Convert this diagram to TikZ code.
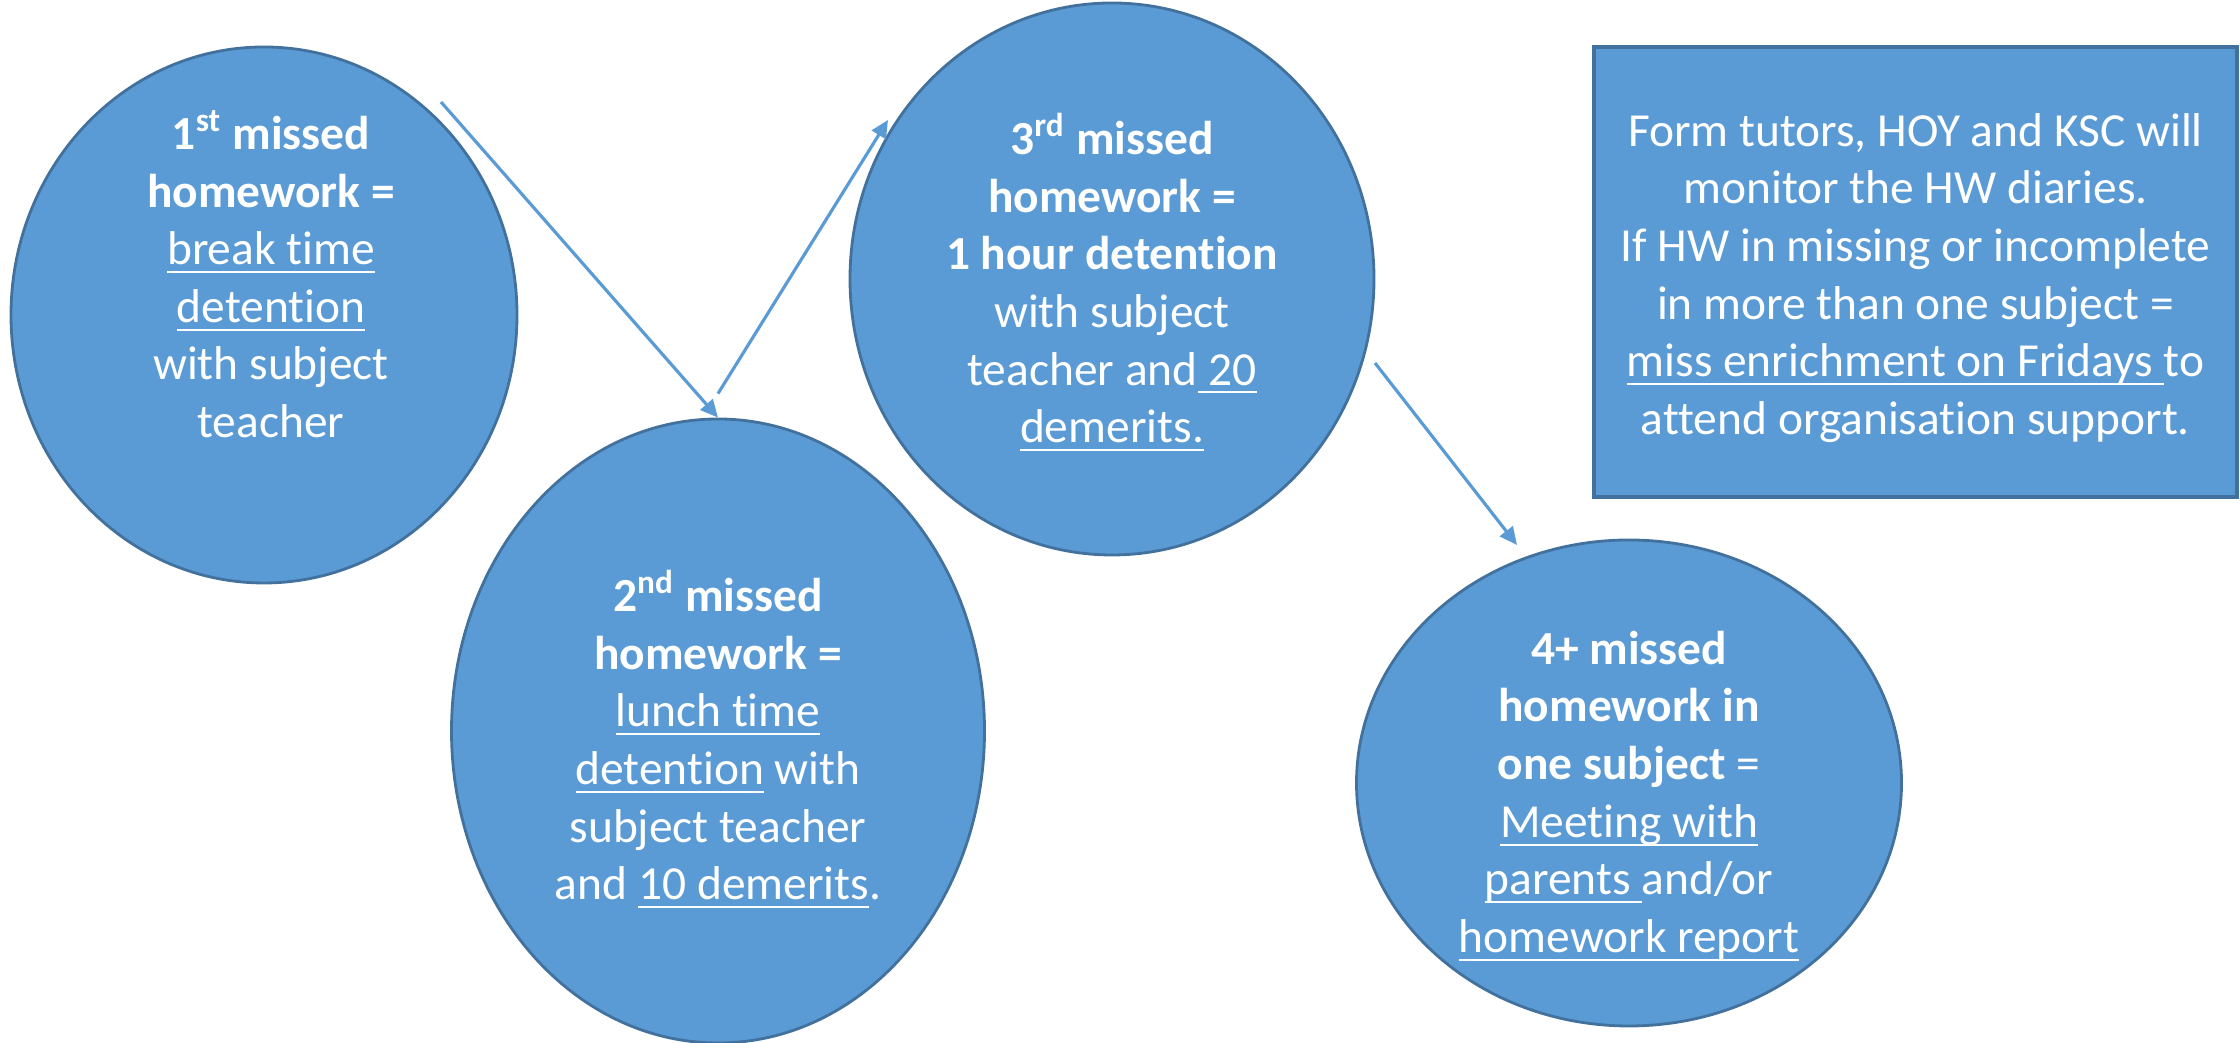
\documentclass[tikz,border=0pt]{standalone}
\usepackage{fontspec}
\setmainfont{Carlito}[Ligatures={NoCommon,NoRare,NoContextual}]
\usepackage{tikz}
\usetikzlibrary{shapes.geometric, arrows.meta, positioning, calc}
\definecolor{blobfill}{HTML}{5B9BD5}
\definecolor{blobline}{HTML}{41719C}
\newcommand{\ulin}[1]{\sbox0{#1}\rlap{\rule[-2.4pt]{\wd0}{0.6pt}}\usebox0}

\begin{document}
\begin{tikzpicture}[
  font=\fontsize{13.5}{16.4}\selectfont,
  blob/.style={ellipse, draw=blobline, fill=blobfill, line width=0.8pt, inner sep=0pt},
  notebox/.style={rectangle, draw=blobline, fill=blobfill, line width=0.9pt,
                  minimum width=6.43cm, minimum height=4.5cm, inner sep=0pt},
  txt/.style={text=white, align=center, inner sep=0pt},
  arr/.style={-{Triangle[length=5pt, width=4.6pt]}, blobfill, line width=0.9pt}
]
  \useasboundingbox (0,0) rectangle (22.4,10.43);

  % the four steps
  \node[blob, minimum width=5.06cm, minimum height=5.36cm] (e1) at (2.64,7.28) {};
  \node[blob, minimum width=5.33cm, minimum height=6.24cm] (e2) at ([shift={(4.54,-4.16)}]e1.center) {};
  \node[blob, minimum width=5.24cm, minimum height=5.52cm] (e3) at ([shift={(8.48,0.36)}]e1.center) {};
  \node[blob, minimum width=5.45cm, minimum height=4.86cm] (e4) at ([shift={(5.17,-5.04)}]e3.center) {};
  \node[notebox] (note) at (19.155,7.71) {};

  \node[txt] (t1) at ([shift={(0.07,0.41)}]e1.center) {\textbf{1\textsuperscript{st} missed}\\ \textbf{homework =}\\
    \ulin{break time}\\ \ulin{detention}\\ with subject\\ teacher};
  \node[txt] (t2) at ([yshift=-0.08cm]e2.center) {\textbf{2\textsuperscript{nd} missed}\\ \textbf{homework =}\\
    \ulin{lunch time}\\ \ulin{detention} with\\ subject teacher\\ and \ulin{10 demerits}.};
  \node[txt] (t3) at ([yshift=-0.03cm]e3.center) {\textbf{3\textsuperscript{rd} missed}\\ \textbf{homework =}\\
    \textbf{1 hour detention}\\ with subject\\ teacher and\ulin{\ 20}\\ \ulin{demerits.}};
  \node[txt] (t4) at ([yshift=-0.13cm]e4.center) {\textbf{4+ missed}\\ \textbf{homework in}\\
    \textbf{one subject} =\\ \ulin{Meeting with}\\ \ulin{parents\ }and/or\\ \ulin{homework report}};
  \node[txt] (tn) at ([yshift=-0.06cm]note.center) {Form tutors, HOY and KSC will\\ monitor the HW diaries.\\
    If HW in missing or incomplete\\ in more than one subject =\\
    \ulin{miss enrichment on Fridays\ }to\\ attend organisation support.};

  % arrow ends
  \coordinate (a1s) at ([shift={(1.77,2.13)}]e1.center);
  \coordinate (a2s) at ([yshift=2.4mm]e2.north);
  \coordinate (a2e) at ([shift={(-2.24,1.59)}]e3.center);
  \coordinate (a3s) at ([shift={(2.63,-0.84)}]e3.center);
  \coordinate (a3e) at ([shift={(-1.12,2.38)}]e4.center);

  \draw[arr] (a1s) -- (e2.north);
  \draw[arr] (a2s) -- (a2e);
  \draw[arr] (a3s) -- (a3e);
\end{tikzpicture}
\end{document}
